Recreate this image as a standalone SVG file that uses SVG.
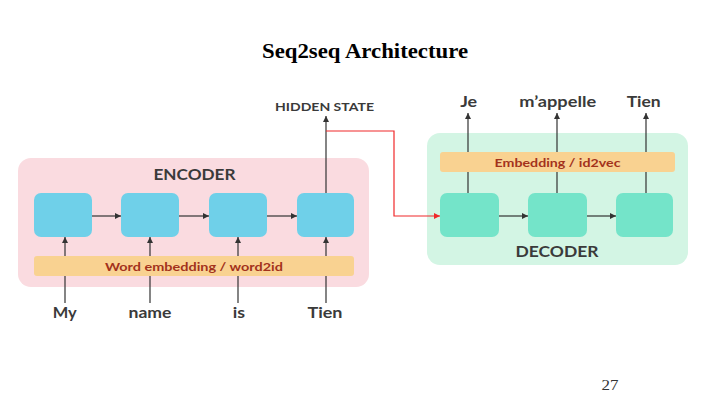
<svg xmlns="http://www.w3.org/2000/svg" width="720" height="405" viewBox="0 0 720 405">
<style>
.title{font-family:"Liberation Serif",serif;font-weight:bold;font-size:22px;fill:#000}
.lbl{font-family:Lato,"Liberation Sans",sans-serif;font-weight:bold;fill:#3a3a3a;text-anchor:middle}
.emb{font-family:Lato,"Liberation Sans",sans-serif;font-weight:bold;font-size:12px;fill:#a3321c;text-anchor:middle}
.ln{stroke:#333;stroke-width:1.2;fill:none}
.enc{fill:#6fd0e9}
.dec{fill:#74e4c9}
.bar{fill:#f9d291}
</style>
<defs>
<marker id="ah" viewBox="0 0 8 8" refX="8" refY="4" markerWidth="6" markerHeight="6" orient="auto" markerUnits="userSpaceOnUse">
<path d="M0,0 L8,4 L0,8 z" fill="#333"/>
</marker>
<marker id="ahr" viewBox="0 0 8 8" refX="8" refY="4" markerWidth="6" markerHeight="6" orient="auto" markerUnits="userSpaceOnUse">
<path d="M0,0 L8,4 L0,8 z" fill="#f0282a"/>
</marker>
</defs>
<rect width="720" height="405" fill="#fff"/>
<text class="title" x="365" y="58" text-anchor="middle" textLength="206" lengthAdjust="spacingAndGlyphs">Seq2seq Architecture</text>
<text x="610" y="390" font-family="Liberation Serif,serif" font-size="14" fill="#333" text-anchor="middle" textLength="17" lengthAdjust="spacingAndGlyphs">27</text>

<g id="encoder">
<rect x="18" y="158" width="351" height="129" rx="13" fill="#fadbe0"/>
<text class="lbl" x="194.5" y="180" font-size="15" textLength="82" lengthAdjust="spacingAndGlyphs">ENCODER</text>
</g>
<g id="decoder">
<rect x="427" y="133" width="261" height="132" rx="13" fill="#d3f5e4"/>
<text class="lbl" x="557" y="257" font-size="15" textLength="83" lengthAdjust="spacingAndGlyphs">DECODER</text>
</g>

<g id="connectors">
<line class="ln" x1="65" y1="303" x2="65" y2="237" marker-end="url(#ah)"/>
<line class="ln" x1="150" y1="303" x2="150" y2="237" marker-end="url(#ah)"/>
<line class="ln" x1="238" y1="303" x2="238" y2="237" marker-end="url(#ah)"/>
<line class="ln" x1="326" y1="303" x2="326" y2="237" marker-end="url(#ah)"/>
<line class="ln" x1="92" y1="216" x2="121" y2="216" marker-end="url(#ah)"/>
<line class="ln" x1="179" y1="216" x2="209" y2="216" marker-end="url(#ah)"/>
<line class="ln" x1="267" y1="216" x2="297" y2="216" marker-end="url(#ah)"/>
<line class="ln" x1="326" y1="193" x2="326" y2="116" marker-end="url(#ah)"/>
<polyline points="326,131 394,131 394,216 440,216" fill="none" stroke="#f0282a" stroke-width="1.2" marker-end="url(#ahr)"/>
<line class="ln" x1="499" y1="216" x2="528" y2="216" marker-end="url(#ah)"/>
<line class="ln" x1="587" y1="216" x2="616" y2="216" marker-end="url(#ah)"/>
<line class="ln" x1="468" y1="193" x2="468" y2="113" marker-end="url(#ah)"/>
<line class="ln" x1="557" y1="193" x2="557" y2="113" marker-end="url(#ah)"/>
<line class="ln" x1="646" y1="193" x2="646" y2="113" marker-end="url(#ah)"/>
</g>

<g id="enc-embedding">
<rect class="bar" x="34" y="256" width="320" height="20" rx="3"/>
<text class="emb" x="194" y="270.5" textLength="178" lengthAdjust="spacingAndGlyphs">Word embedding / word2id</text>
</g>
<g id="dec-embedding">
<rect class="bar" x="440" y="152" width="235" height="20" rx="3"/>
<text class="emb" x="557.5" y="166.5" textLength="126" lengthAdjust="spacingAndGlyphs">Embedding / id2vec</text>
</g>

<g id="enc1"><rect class="enc" x="34" y="193" width="58" height="44" rx="7"/></g>
<g id="enc2"><rect class="enc" x="121" y="193" width="58" height="44" rx="7"/></g>
<g id="enc3"><rect class="enc" x="209" y="193" width="58" height="44" rx="7"/></g>
<g id="enc4"><rect class="enc" x="297" y="193" width="57" height="44" rx="7"/></g>
<g id="dec1"><rect class="dec" x="440" y="193" width="59" height="44" rx="7"/></g>
<g id="dec2"><rect class="dec" x="528" y="193" width="59" height="44" rx="7"/></g>
<g id="dec3"><rect class="dec" x="616" y="193" width="57" height="44" rx="7"/></g>

<g id="inputs">
<text class="lbl" x="64.7" y="318" font-size="16" textLength="24" lengthAdjust="spacingAndGlyphs">My</text>
<text class="lbl" x="150" y="318" font-size="16" textLength="43" lengthAdjust="spacingAndGlyphs">name</text>
<text class="lbl" x="239" y="318" font-size="16" textLength="12.3" lengthAdjust="spacingAndGlyphs">is</text>
<text class="lbl" x="325" y="318" font-size="16" textLength="35" lengthAdjust="spacingAndGlyphs">Tien</text>
</g>
<g id="hidden-state">
<text class="lbl" x="324.5" y="111" font-size="11" textLength="99" lengthAdjust="spacingAndGlyphs">HIDDEN STATE</text>
</g>
<g id="outputs">
<text class="lbl" x="468.7" y="107" font-size="15" textLength="17" lengthAdjust="spacingAndGlyphs">Je</text>
<text class="lbl" x="557.7" y="107" font-size="15" textLength="77" lengthAdjust="spacingAndGlyphs">m’appelle</text>
<text class="lbl" x="643.7" y="107" font-size="15" textLength="34" lengthAdjust="spacingAndGlyphs">Tien</text>
</g>
</svg>
